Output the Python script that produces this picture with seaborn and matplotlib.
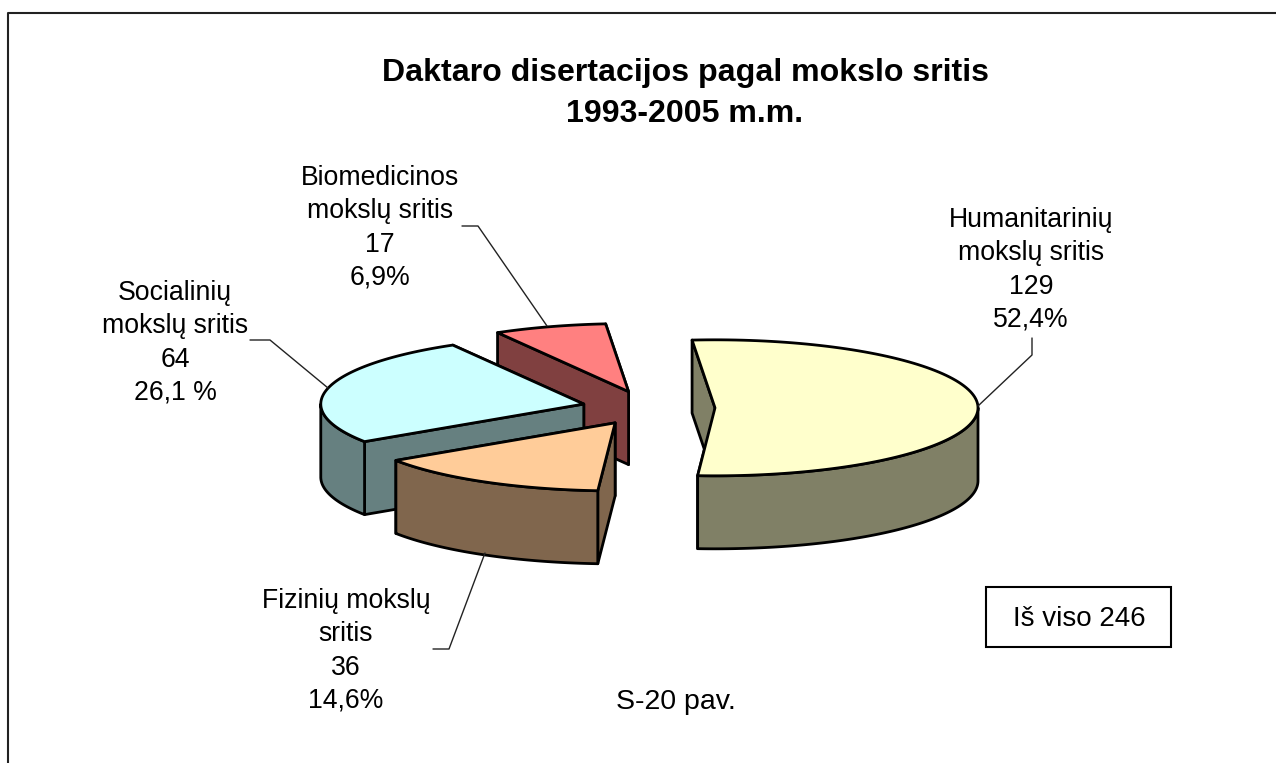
import numpy as np
import matplotlib
matplotlib.use("Agg")
import matplotlib.pyplot as plt
from matplotlib.patches import Polygon, Rectangle
import seaborn as sns

# Data
categories = ["Humanitarinių\nmokslų sritis", "Fizinių mokslų\nsritis",
              "Socialinių\nmokslų sritis", "Biomedicinos\nmokslų sritis"]
counts = [129, 36, 64, 17]
pct_labels = ["52,4%", "14,6%", "26,1 %", "6,9%"]
top_colors = ["#FFFFCC", "#FFCC99", "#CCFFFF", "#FF8080"]
title = "Daktaro disertacijos pagal mokslo sritis\n1993-2005 m.m."
total_label = "Iš viso 246"
fig_label = "S-20 pav."

# Pie geometry in pixels
cx, cy = 648.5, 408
rx, ry = 263, 68
depth = 73
explode = 66.5
start_angle = -5

sns.set_theme(style="white")
plt.rcParams["font.family"] = ["Liberation Sans", "DejaVu Sans"]

fig, ax = plt.subplots(figsize=(12.76, 7.63), dpi=100)
ax.set_position([0, 0, 1, 1])
ax.set_xlim(0, 1276)
ax.set_ylim(763, 0)
ax.axis("off")

# frame, only top and left fall inside the picture
ax.plot([8, 8, 1276], [763, 13, 13], color="#222222", lw=1.5, clip_on=False)

# side walls are the top colour at half brightness
side_colors = [tuple(c * 0.5 for c in col) for col in sns.color_palette(top_colors)]


def pt(ax0, ay0, deg):
    t = np.radians(deg)
    return ax0 + rx * np.sin(t), ay0 - ry * np.cos(t)


fracs = np.array(counts) / sum(counts)
edges = start_angle + np.concatenate([[0], np.cumsum(fracs)]) * 360
line = dict(edgecolor="black", lw=2, joinstyle="round")

# back to front
for i in [3, 2, 1, 0]:
    a0, a1 = edges[i], edges[i + 1]
    mid = (a0 + a1) / 2
    ox, oy = pt(cx, cy, mid)
    ox = cx + (ox - cx) * explode / rx
    oy = cy + (oy - cy) * explode / rx

    angs = np.linspace(a0, a1, 120)
    xs, ys = pt(ox, oy, angs)

    # radial faces
    for a in (a1, a0):
        ex, ey = pt(ox, oy, a)
        ax.add_patch(Polygon([(ox, oy), (ex, ey), (ex, ey + depth), (ox, oy + depth)],
                             facecolor=side_colors[i], **line))

    # outer rim, front half only
    low, high = max(a0, 90), min(a1, 270)
    if low < high:
        r = np.linspace(low, high, 120)
        rxs, rys = pt(ox, oy, r)
        verts = np.concatenate([np.column_stack([rxs, rys]),
                                np.column_stack([rxs, rys + depth])[::-1]])
        ax.add_patch(Polygon(verts, facecolor=side_colors[i], **line))

    # top face
    verts = np.vstack([[ox, oy], np.column_stack([xs, ys])])
    ax.add_patch(Polygon(verts, facecolor=top_colors[i], **line))

# leader lines
leaders = [([978, 1032, 1032], [406, 355, 338]),
           ([433, 449, 485], [649, 649, 553]),
           ([250, 270, 328], [340, 340, 388]),
           ([462, 478, 547], [226, 226, 326])]
for lx, ly in leaders:
    ax.plot(lx, ly, color="#222222", lw=1)

# slice labels
label_pos = [(1031, 270), (346, 651), (175, 343), (380, 228)]
for name, n, p, (tx, ty) in zip(categories, counts, pct_labels, label_pos):
    ax.text(tx, ty, f"{name}\n{n}\n{p}", ha="center", va="center",
            fontsize=19.2, linespacing=1.36, color="black")

ax.text(685, 93.5, title, ha="center", va="center", fontsize=23.1,
        fontweight="bold", linespacing=1.48, color="black")
ax.text(676, 702, fig_label, ha="center", va="center", fontsize=20.5, color="black")

ax.add_patch(Rectangle((986, 587), 185, 60, facecolor="white", edgecolor="black", lw=1.5))
ax.text(1079, 619, total_label, ha="center", va="center", fontsize=20, color="black")

fig.savefig("out.png", dpi=100)
